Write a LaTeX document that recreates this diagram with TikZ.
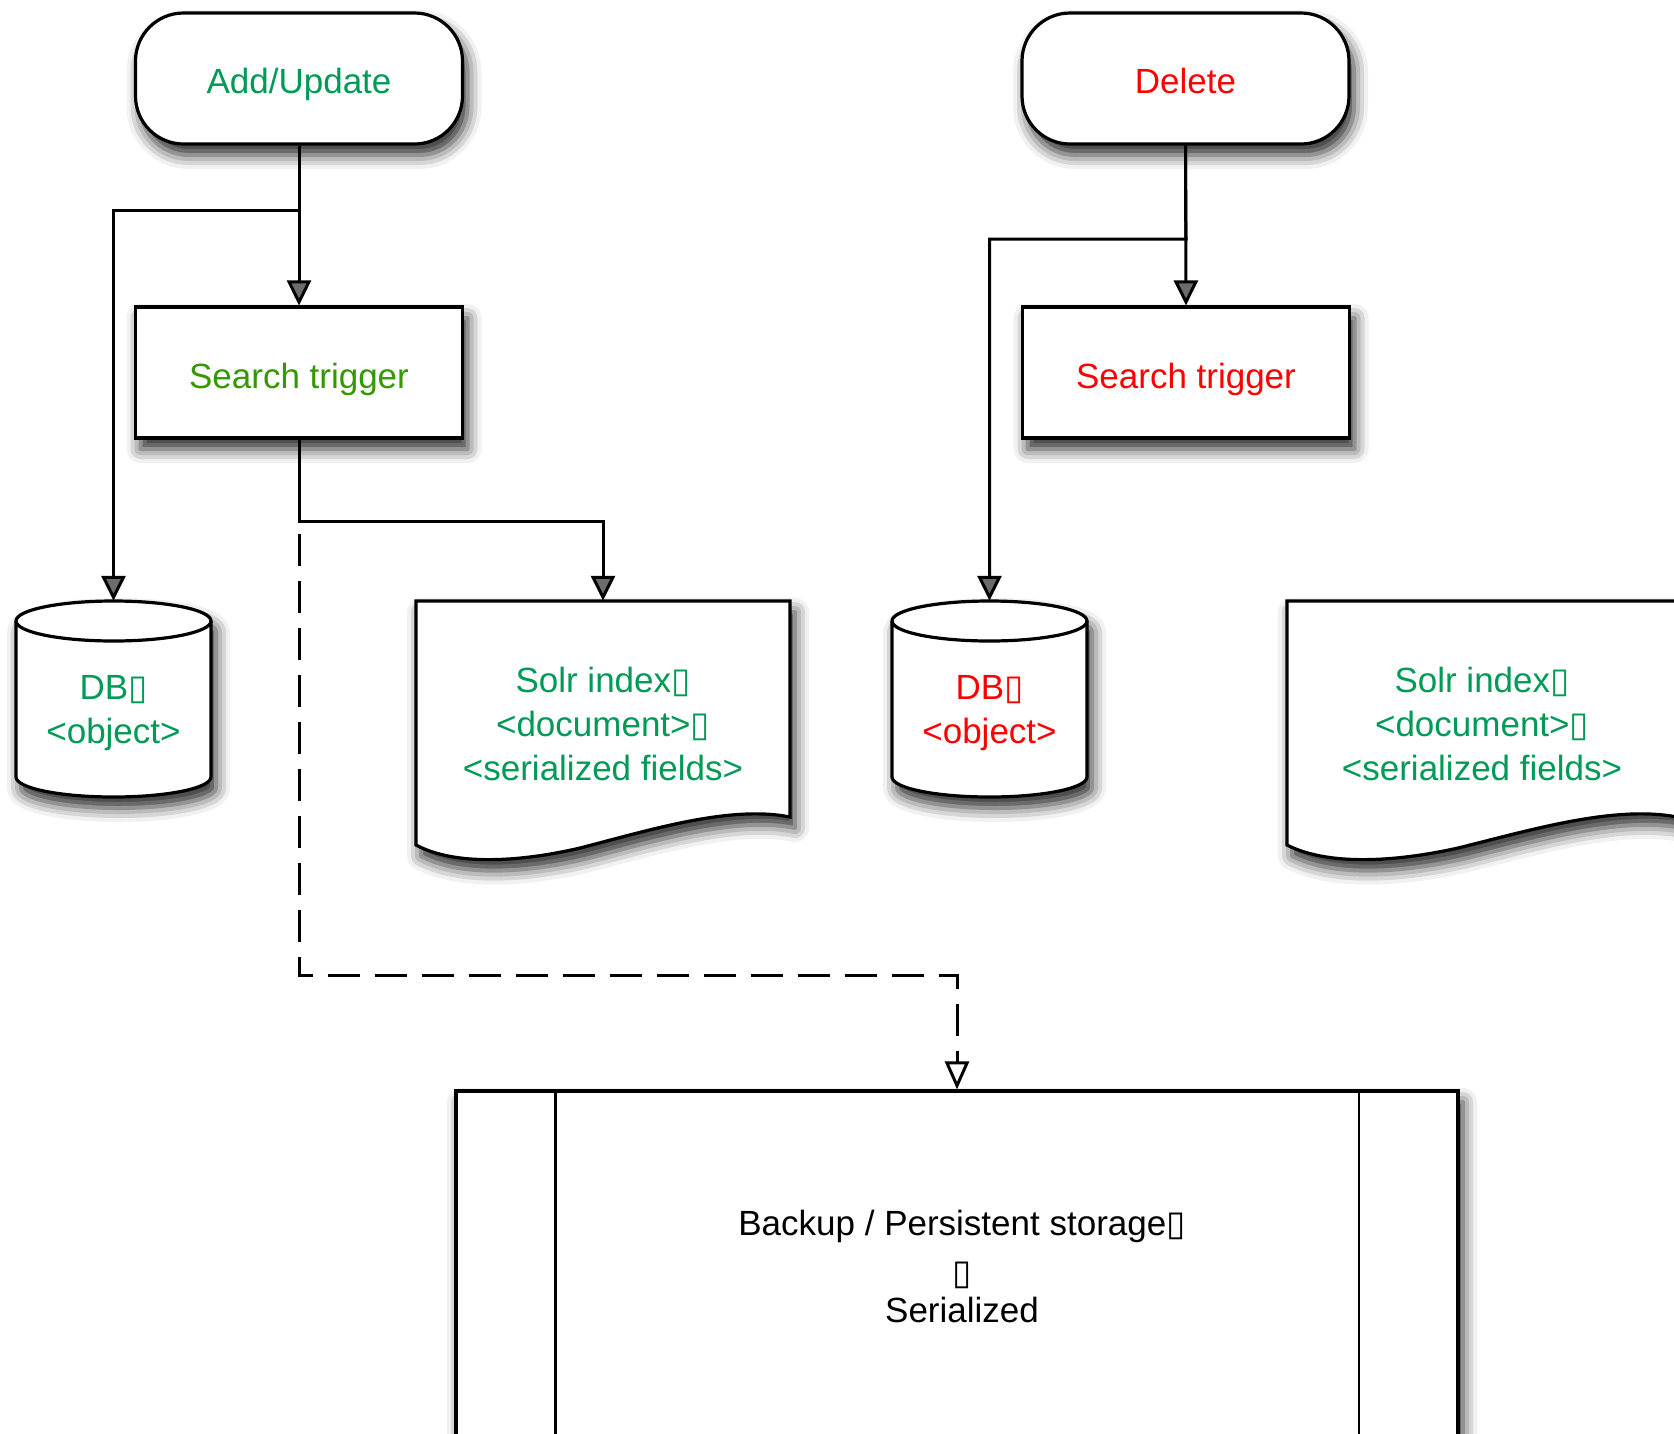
\documentclass[tikz,border=0pt]{standalone}
\usepackage{fontspec}
\setmainfont{Liberation Sans}
\newfontfamily\symfont{DejaVu Sans}
\usetikzlibrary{arrows.meta,shadows.blur}
\definecolor{gA}{HTML}{009A57}
\definecolor{gB}{HTML}{339900}
\definecolor{rC}{HTML}{FF0000}
\newcommand\bx{{\symfont\char"25AF}}
\begin{document}
\begin{tikzpicture}[x=1pt,y=-1pt,
  shd/.style={blur shadow={shadow xshift=5pt,shadow yshift=-11pt,shadow blur radius=14pt,shadow opacity=85}},
  txt/.style={font=\fontsize{35}{44}\selectfont,align=center},
  term/.style={draw,line width=3.2pt,fill=white,rounded corners=48pt,minimum width=327pt,minimum height=131pt,shd,txt,text height=30pt,text depth=0pt},
  proc/.style={draw,line width=3.2pt,fill=white,minimum width=327pt,minimum height=131pt,shd,txt,text height=32pt,text depth=0pt},
  anchorbox/.style={txt,inner sep=0pt},
  shapeline/.style={draw,line width=3.2pt,fill=white,shd},
  conn/.style={line width=3pt,-{Triangle[width=24pt,length=25pt]}},
  dconn/.style={line width=3pt,dash pattern=on 32pt off 15pt,-{Triangle[open,width=24pt,length=28pt]}}
]
\useasboundingbox (0,0) rectangle (1674,1433);

% cylinders
\path[shapeline] (16,621) -- (16,777) arc[start angle=180,end angle=360,x radius=97.5pt,y radius=20pt] -- (211,621) arc[start angle=0,end angle=180,x radius=97.5pt,y radius=20pt] -- cycle;
\draw[line width=3.2pt] (16,621) arc[start angle=180,end angle=360,x radius=97.5pt,y radius=20pt];
\path[shapeline] (892,621) -- (892,777) arc[start angle=180,end angle=360,x radius=97.5pt,y radius=20pt] -- (1087,621) arc[start angle=0,end angle=180,x radius=97.5pt,y radius=20pt] -- cycle;
\draw[line width=3.2pt] (892,621) arc[start angle=180,end angle=360,x radius=97.5pt,y radius=20pt];

% documents
\path[shapeline] (416,601) -- (790,601) -- (790,817) .. controls (730,805) and (650,830) .. (580,848) .. controls (520,862) and (455,866) .. (416,845) -- cycle;
\path[shapeline] (1287,601) -- (1677,601) -- (1677,817) .. controls (1614,805) and (1531,830) .. (1458,848) .. controls (1395,862) and (1328,866) .. (1287,845) -- cycle;

% storage
\node[draw,line width=3.2pt,fill=white,shd,minimum width=1002pt,minimum height=349pt,inner sep=0pt] (stor) at (957,1265.5) {};
\draw[line width=2.2pt] ([xshift=101pt]stor.north west) -- ([xshift=101pt]stor.south west);
\draw[line width=2.2pt] ([xshift=-101pt]stor.north east) -- ([xshift=-101pt]stor.south east);
\node[anchorbox] (stxt) at (962,1266) {Backup / Persistent storage\bx\\[5pt]\bx\\[-6pt]Serialized};

% process nodes
\node[term,text=gA] (add) at (299,78.5) {Add/Update};
\node[term,text=rC] (del) at (1185.5,78.5) {Delete};
\node[proc,text=gB] (st1) at (299,372.5) {Search trigger};
\node[proc,text=rC] (st2) at (1186,372.5) {Search trigger};

% text / anchor nodes for cylinders and documents
\node[anchorbox,text=gA,minimum width=195pt,minimum height=224pt] (db1) at (113.5,713) {DB\bx\\<object>};
\node[anchorbox,text=rC,minimum width=195pt,minimum height=224pt] (db2) at (989.5,713) {DB\bx\\<object>};
\node[anchorbox,text=gA,minimum width=374pt,minimum height=246pt] (doc1) at (603,724) {Solr index\bx\\<document>\bx\\<serialized fields>};
\node[anchorbox,text=gA,minimum width=374pt,minimum height=246pt] (doc2) at (1482,724) {Solr index\bx\\<document>\bx\\<serialized fields>};

% junctions
\coordinate (j1) at (299,210);
\coordinate (j2) at (1186,239);
\coordinate (j3) at (299,521);
\coordinate (j4) at (957,975);

% connectors
\draw[conn] (add.south) -- (st1.north);
\draw[conn] (add.south) -- (j1) -| (db1.north);
\draw[conn] (del.south) -- (st2.north);
\draw[conn] (del.south) -- (j2) -| (db2.north);
\draw[conn] (st1.south) -- (j3) -| (doc1.north);
\draw[dconn] (st1.south) |- (j4) -- (stor.north);
\end{tikzpicture}
\end{document}
